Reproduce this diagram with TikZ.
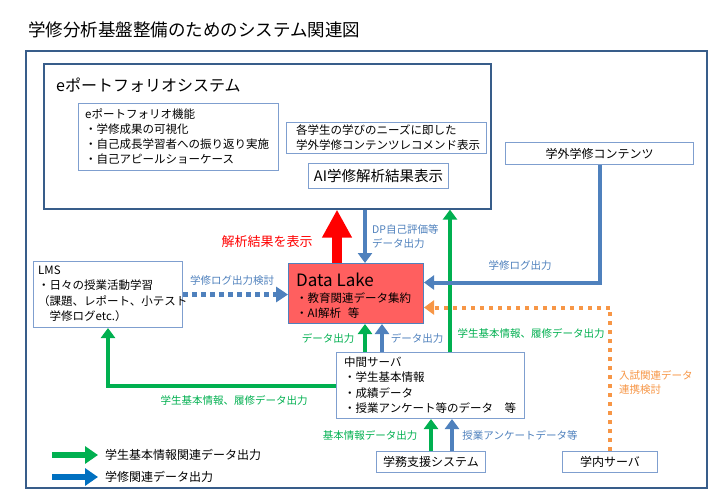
\documentclass[tikz,border=0pt]{standalone}
\usepackage{fontspec}
\setmainfont{Noto Sans CJK JP}
\usetikzlibrary{arrows.meta,calc}
\definecolor{bblue}{HTML}{4F81BD}
\definecolor{lblue}{HTML}{7F9FCF}
\definecolor{dblue}{HTML}{385D8A}
\definecolor{lgreen}{HTML}{00B050}
\definecolor{orng}{HTML}{F79646}
\definecolor{lake}{HTML}{FF5F5F}
\definecolor{legblue}{HTML}{0070C0}
\begin{document}
\begin{tikzpicture}[x=1pt,y=-1pt,
 box/.style={draw=lblue, line width=1pt, fill=white, anchor=north west, inner sep=0pt},
 btxt/.style={font=\fontsize{11.5}{15}\selectfont, align=left},
 lbl/.style={font=\fontsize{10.5}{14}\selectfont, inner sep=0pt, align=left},
 tipb/.style={-{Triangle[width=14pt,length=10pt]}},
 barrow/.style={draw=bblue, line width=4pt, tipb},
 garrow/.style={draw=lgreen, line width=4pt, tipb},
]
\useasboundingbox (0,0) rectangle (720,498);
\fill[white] (0,0) rectangle (720,498);

% title
\node[anchor=west, inner sep=0pt, font=\fontsize{17.5}{20}\selectfont] (title) at (28,30) {学修分析基盤整備のためのシステム関連図};
% outer frame
\node[draw=dblue, line width=1.6pt, anchor=north west, inner sep=0pt, minimum width=681pt, minimum height=437pt] (frame) at (25,50) {};

% e-portfolio system
\node[draw=dblue, line width=1.6pt, fill=white, anchor=north west, inner sep=0pt, minimum width=447pt, minimum height=145pt] (eport) at (43,63) {};
\node[anchor=west, inner sep=0pt, font=\fontsize{16}{18}\selectfont] (eporttitle) at (56,85) {eポートフォリオシステム};
\node[box, minimum width=200pt, minimum height=67pt] (func) at (78,103) {};
\node[btxt, anchor=west, inner sep=0pt] (functxt) at (85,136.5) {eポートフォリオ機能\\・学修成果の可視化\\・自己成長学習者への振り返り実施\\・自己アピールショーケース};
\node[box, minimum width=200pt, minimum height=31pt] (recom) at (286,122) {};
\node[anchor=west, inner sep=0pt, align=left, font=\fontsize{11.5}{14.5}\selectfont] (recomtxt) at (296,137.5) {各学生の学びのニーズに即した\\学外学修コンテンツレコメンド表示};
\node[box, minimum width=140pt, minimum height=25pt, font=\fontsize{14.5}{16}\selectfont] (ai) at (308,163) {AI学修解析結果表示};

% external contents
\node[box, minimum width=188pt, minimum height=22pt, font=\fontsize{12}{14}\selectfont] (ext) at (505,142) {学外学修コンテンツ};

% data lake
\node[draw=bblue, line width=1pt, fill=lake, anchor=north west, inner sep=0pt, minimum width=135pt, minimum height=60pt] (lake) at (288,263) {};
\node[anchor=west, inner sep=0pt, align=left, font=\fontsize{17}{20}\selectfont] (laketitle) at (296,280) {Data Lake};
\node[anchor=west, inner sep=0pt, align=left, font=\fontsize{11.5}{15}\selectfont] (laketxt) at (296,305.5) {・教育関連データ集約\\・AI解析\hspace{0.6em}等};

% LMS
\node[box, minimum width=149pt, minimum height=66pt] (lms) at (33,261) {};
\node[btxt, anchor=west, inner sep=0pt, font=\fontsize{11.5}{15.5}\selectfont] (lmstxt) at (38,294) {LMS\\・日々の授業活動学習\\（課題、レポート、小テスト\\\hspace{1em}学修ログetc.）};

% middle server
\node[box, minimum width=188pt, minimum height=66pt] (mid) at (336,352) {};
\node[anchor=west, inner sep=0pt, align=left, font=\fontsize{11.5}{15.5}\selectfont] (midtxt) at (344,385) {中間サーバ\\・学生基本情報\\・成績データ\\・授業アンケート等のデータ\hspace{1em}等};

% academic support system and campus server
\node[box, minimum width=109pt, minimum height=21pt, font=\fontsize{12}{14}\selectfont] (gakumu) at (376,451) {学務支援システム};
\node[box, minimum width=95pt, minimum height=21pt, font=\fontsize{12}{14}\selectfont] (inner) at (562,451) {学内サーバ};

% coordinates for vertical connectors
\coordinate (xred) at (337,0);
\coordinate (xdp) at (365,0);
\coordinate (xgl) at (450,0);
\coordinate (xmg) at (365,0);
\coordinate (xmb) at (382,0);
\coordinate (xsg) at (431,0);
\coordinate (xsb) at (452,0);

% red arrow
\draw[draw=red, line width=10pt, -{Triangle[width=28pt,length=28pt]}] (xred |- lake.north) -- (xred |- eport.south);
\node[font=\fontsize{13}{15}\selectfont, text=red, inner sep=0pt] (redlbl) at (267,242) {解析結果を表示};

% DP arrow
\draw[barrow] (xdp |- eport.south) -- (xdp |- lake.north);
\node[lbl, anchor=west, text=bblue] (dplbl) at (372,237) {DP自己評価等\\データ出力};

% long green arrow
\draw[garrow] (xgl |- mid.north) -- (xgl |- eport.south);
\node[lbl, text=lgreen] (glbl) at (531,333) {学生基本情報、履修データ出力};

% learning log from external contents
\draw[barrow, line join=miter] (ext.south) |- ($(lake.east)+(0,-11)$);
\node[lbl, text=bblue] (loglbl) at (520,265) {学修ログ出力};

% orange dotted from campus server
\draw[draw=orng, line width=4pt, dash pattern=on 4pt off 5pt, -{Triangle[width=14pt,length=10pt]}] (inner.north) |- ($(lake.east)+(0,14)$);
\node[lbl, anchor=west, text=orng] (orlbl) at (619,382) {入試関連データ\\連携検討};

% LMS dotted
\draw[draw=bblue, line width=5pt, dash pattern=on 5pt off 4pt, -{Triangle[width=15pt,length=12pt]}] (lms.east) -- (lms.east -| lake.west);
\node[lbl, text=bblue] (lmslbl) at (232,281) {学修ログ出力検討};

% middle server to data lake
\draw[garrow] (xmg |- mid.north) -- (xmg |- lake.south);
\draw[barrow] (xmb |- mid.north) -- (xmb |- lake.south);
\node[lbl, text=lgreen] (mglbl) at (328,338) {データ出力};
\node[lbl, text=bblue] (mblbl) at (417,338) {データ出力};

% middle server to LMS
\draw[garrow, line join=miter] (mid.west) -| (lms.south);
\node[lbl, text=lgreen] (mllbl) at (234,400) {学生基本情報、履修データ出力};

% academic support to middle server
\draw[garrow] (xsg |- gakumu.north) -- (xsg |- mid.south);
\draw[barrow] (xsb |- gakumu.north) -- (xsb |- mid.south);
\node[lbl, text=lgreen] (sglbl) at (370,435) {基本情報データ出力};
\node[lbl, text=bblue] (sblbl) at (520,435) {授業アンケートデータ等};

% legend
\coordinate (lg1) at (52,455);
\coordinate (lg2) at (98,455);
\coordinate (lb1) at (52,477);
\coordinate (lb2) at (98,477);
\draw[draw=lgreen, line width=6pt, -{Triangle[width=17pt,length=13pt]}] (lg1) -- (lg2);
\draw[draw=legblue, line width=6pt, -{Triangle[width=17pt,length=13pt]}] (lb1) -- (lb2);
\node[anchor=west, inner sep=0pt, font=\fontsize{12}{14}\selectfont] (lgt) at (105,455) {学生基本情報関連データ出力};
\node[anchor=west, inner sep=0pt, font=\fontsize{12}{14}\selectfont] (lbt) at (105,477) {学修関連データ出力};
\end{tikzpicture}
\end{document}
